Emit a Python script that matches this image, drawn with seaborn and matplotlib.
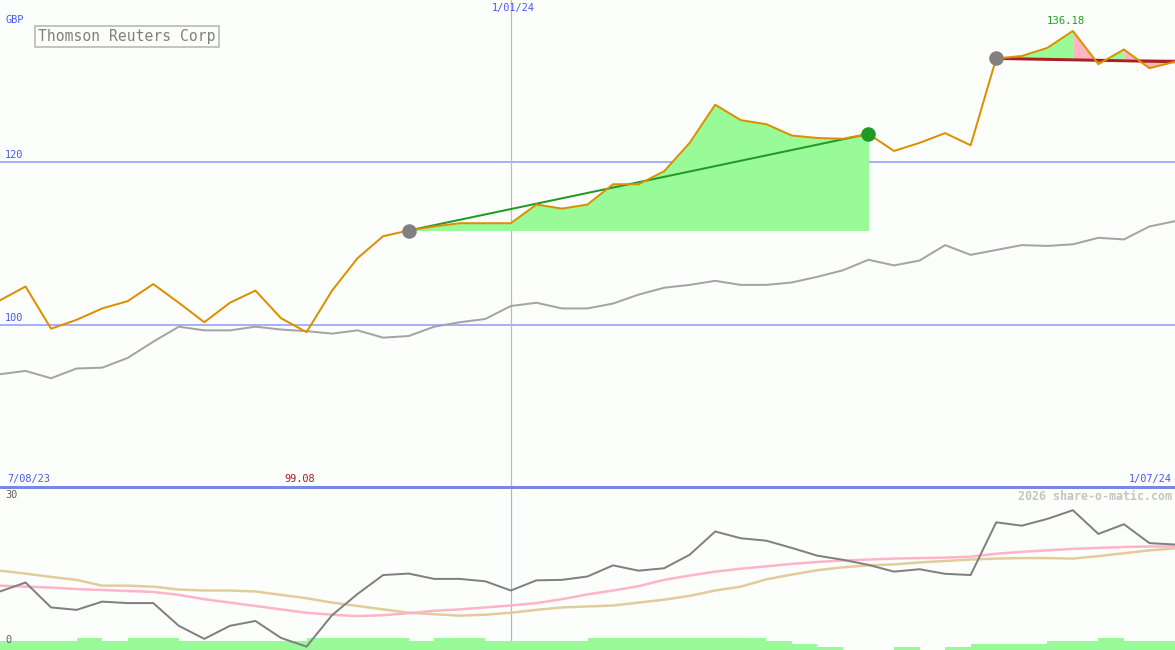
import numpy as np
import pandas as pd
import matplotlib
matplotlib.use("Agg")
import matplotlib.pyplot as plt
import seaborn as sns

# ---------------- data ----------------
weeks = list(range(47))
price = [103.0, 104.7, 99.5, 100.6, 102.0, 102.9, 105.0, 102.7, 100.3, 102.7,
         104.2, 100.8, 99.08, 104.2, 108.2, 110.9, 111.6, 112.1, 112.5, 112.5,
         112.5, 114.8, 114.3, 114.8, 117.3, 117.3, 118.9, 122.4, 127.1, 125.2,
         124.7, 123.3, 123.0, 122.9, 123.5, 121.4, 122.4, 123.6, 122.1, 132.8,
         133.1, 134.1, 136.18, 132.1, 133.9, 131.6, 132.4]
ma_long = [93.9, 94.3, 93.4, 94.6, 94.7, 95.9, 97.9, 99.75, 99.3, 99.3,
           99.75, 99.4, 99.2, 98.9, 99.3, 98.4, 98.6, 99.75, 100.3, 100.7,
           102.3, 102.7, 102.0, 102.0, 102.6, 103.7, 104.55, 104.9, 105.4, 104.9,
           104.9, 105.2, 105.9, 106.7, 108.0, 107.3, 107.9, 109.8, 108.6, 109.2,
           109.8, 109.7, 109.9, 110.7, 110.5, 112.1, 112.75]
osc = [11.4, 13.25, 8.1, 7.6, 9.3, 9.0, 9.0, 4.3, 1.6, 4.3,
       5.3, 1.8, 0.0, 6.5, 10.9, 14.8, 15.1, 14.0, 14.0, 13.5,
       11.6, 13.7, 13.8, 14.5, 16.8, 15.7, 16.2, 19.0, 23.8, 22.4,
       21.9, 20.4, 18.8, 17.95, 16.9, 15.5, 16.0, 15.05, 14.8, 25.7,
       25.0, 26.4, 28.2, 23.3, 25.3, 21.4, 21.1]
osc_fast = [12.6, 12.4, 12.2, 11.9, 11.7, 11.5, 11.3, 10.7, 9.8, 9.1,
            8.4, 7.7, 7.0, 6.6, 6.3, 6.5, 6.9, 7.4, 7.7, 8.1,
            8.5, 9.0, 9.8, 10.8, 11.6, 12.5, 13.8, 14.7, 15.5, 16.1,
            16.6, 17.1, 17.5, 17.8, 18.0, 18.2, 18.3, 18.4, 18.6, 19.2,
            19.6, 19.9, 20.2, 20.4, 20.6, 20.7, 20.7]
osc_slow = [15.7, 15.1, 14.4, 13.8, 12.6, 12.6, 12.4, 11.8, 11.6, 11.6,
            11.4, 10.7, 10.0, 9.1, 8.4, 7.7, 7.0, 6.7, 6.4, 6.6,
            7.0, 7.6, 8.1, 8.3, 8.5, 9.1, 9.7, 10.5, 11.6, 12.4,
            13.9, 14.9, 15.8, 16.4, 16.8, 17.0, 17.4, 17.7, 18.0, 18.2,
            18.3, 18.3, 18.2, 18.7, 19.3, 19.9, 20.3]
vol_level = [3, 3, 3, 4, 3, 4, 4, 3, 3, 3,
             3, 3, 4, 4, 4, 4, 3, 4, 4, 3,
             3, 3, 3, 4, 4, 4, 4, 4, 4, 4,
             3, 2, 1, 0, 0, 1, 0, 1, 2, 2,
             2, 3, 3, 4, 3, 3]
trend1_idx = [16, 34]
trend2_idx = [39, 46]
trend2_val = [132.8, 132.4]
seg2_up = [True, True, True, False, True, False, False]  # segments 39..46

company = "Thomson Reuters Corp"
currency = "GBP"
start_label, mid_label, end_label = "7/08/23", "1/01/24", "1/07/24"
mid_idx = 20
top_ticks = [100, 120]
bot_ticks = [30, 0]
watermark = "2026 share-o-matic.com"

# ---------------- style ----------------
sns.set_style("white")
plt.rcParams["font.family"] = ["DejaVu Sans Mono", "DejaVu Sans"]
BG = "#fcfefc"
PX = 72 / 100.0  # points per pixel at dpi 100

fig = plt.figure(figsize=(11.75, 6.5), dpi=100, facecolor=BG)
ax = fig.add_axes([0, 163 / 650, 1, 487 / 650])
bx = fig.add_axes([0, 0, 1, 163 / 650])
ax.set_zorder(3)
bx.set_zorder(1)
for a in (ax, bx):
    a.set_facecolor(BG)
    for s in a.spines.values():
        s.set_visible(False)

df = pd.DataFrame({"week": weeks, "price": price, "ma": ma_long,
                   "osc": osc, "fast": osc_fast, "slow": osc_slow})

# grid lines
for t in top_ticks:
    ax.axhline(t, color="#a8b0f8", lw=2 * PX, zorder=0.5)
ax.axvline(mid_idx, color="#b8b8c8", lw=1.2 * PX, zorder=0.5)
bx.axvline(mid_idx, color="#a8b0e8", lw=1.2 * PX, zorder=0.5)

# fills
s1, e1 = trend1_idx
ax.fill_between(weeks[s1:e1 + 1], price[s1:e1 + 1], price[s1],
                color="#98fb98", lw=0, zorder=1)
s2, e2 = trend2_idx
base2 = price[s2]
for k, i in enumerate(range(s2, e2)):
    ax.fill_between([i, i + 1], [price[i], price[i + 1]], [base2, base2],
                    color="#98fb98" if seg2_up[k] else "#ffb6c1", lw=0, zorder=1)

# lines
sns.lineplot(data=df, x="week", y="ma", ax=ax, color="#a4a4a4", lw=2 * PX, zorder=2)
sns.lineplot(data=df, x="week", y="price", ax=ax, color="#dc9000", lw=2 * PX, zorder=4)
sns.lineplot(x=trend1_idx, y=[price[s1], price[e1]], ax=ax, color="#229922",
             lw=2 * PX, zorder=3)
sns.lineplot(x=trend2_idx, y=trend2_val, ax=ax, color="#a82020", lw=3 * PX, zorder=3)
ax.scatter([s1], [price[s1]], s=110, color="#808080", zorder=5, lw=0)
ax.scatter([e1], [price[e1]], s=110, color="#229922", zorder=5, lw=0)
ax.scatter([s2], [price[s2]], s=110, color="#808080", zorder=5, lw=0)
ax.axhline(80, color="#7888e8", lw=3 * PX, zorder=6, clip_on=False)

# bottom panel
unit = (33 + 0.7) / 163 * 3
base = -0.7
tops = [base + v * unit for v in vol_level] + [base + vol_level[-1] * unit]
bx.fill_between(weeks, base, tops, step="post", color="#98fb98", lw=0, zorder=1)
sns.lineplot(data=df, x="week", y="slow", ax=bx, color="#e2cc9c", lw=2.5 * PX, zorder=2)
sns.lineplot(data=df, x="week", y="fast", ax=bx, color="#ffb4c8", lw=2.5 * PX, zorder=2)
sns.lineplot(data=df, x="week", y="osc", ax=bx, color="#808080", lw=2 * PX, zorder=3)
for a in (ax, bx):
    a.set_xlabel("")
    a.set_ylabel("")
    a.set_xticks([])
    a.set_yticks([])
    a.set_xlim(0, 46)
ax.set_ylim(80, 140)
bx.set_ylim(-0.7, 33)

# ---------------- text ----------------
BLUE = "#4858f0"
fs_small = 7.4


def ftxt(xp, yp, s, **kw):
    fig.text(xp / 1175, 1 - yp / 650, s, **kw)


for t in top_ticks:
    ax.annotate(str(t), xy=(0, t), xycoords=("axes fraction", "data"),
                xytext=(5, 2), textcoords="offset pixels", ha="left", va="bottom",
                color=BLUE, fontsize=fs_small)
ftxt(5, 20, currency, color=BLUE, fontsize=fs_small, va="center")
ftxt(38, 36.5, company, color="#808080", fontsize=10.6, va="center", ha="left",
     bbox=dict(boxstyle="square,pad=0.22", fc=BG, ec="#c4c4c4", lw=2 * PX))
ax.annotate(mid_label, xy=(mid_idx, 140), xycoords="data", xytext=(2, -8),
            textcoords="offset pixels", ha="center", va="center", color=BLUE,
            fontsize=fs_small)
ftxt(7, 479, start_label, color=BLUE, fontsize=fs_small, va="center", ha="left")
ftxt(1172, 479, end_label, color=BLUE, fontsize=fs_small, va="center", ha="right")

imin = int(np.argmin(price))
imax = int(np.argmax(price))
ax.annotate(f"{price[imin]:.2f}", xy=(imin, 80), xycoords="data", xytext=(-7, 8),
            textcoords="offset pixels", ha="center", va="center", color="#a02020",
            fontsize=fs_small)
ax.annotate(f"{price[imax]:.2f}", xy=(imax, 140), xycoords="data", xytext=(-7, -21),
            textcoords="offset pixels", ha="center", va="center", color="#22a022",
            fontsize=fs_small + 0.3)

ftxt(1172, 496, watermark, color="#c4c4c4", fontsize=8.4, va="center", ha="right",
     fontweight="bold")
for t in bot_ticks:
    bx.annotate(str(t), xy=(0, t), xycoords=("axes fraction", "data"),
                xytext=(5, 2), textcoords="offset pixels", ha="left", va="bottom",
                color="#606060", fontsize=fs_small)

fig.savefig("out.png", dpi=100, facecolor=BG)
